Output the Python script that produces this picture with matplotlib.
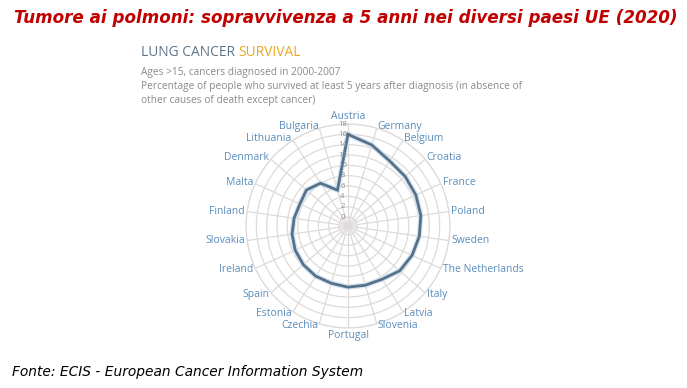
import numpy as np
import matplotlib
matplotlib.use("Agg")
import matplotlib.pyplot as plt

countries = ["Austria", "Germany", "Belgium", "Croatia", "France", "Poland", "Sweden",
             "The Netherlands", "Italy", "Latvia", "Slovenia", "Portugal", "Czechia",
             "Estonia", "Spain", "Ireland", "Slovakia", "Finland", "Malta", "Denmark",
             "Lithuania", "Bulgaria"]
survival = [16.0, 14.6, 13.2, 12.9, 12.7, 12.5, 12.2, 11.9, 11.5, 10.5, 10.2, 10.1,
            9.8, 9.8, 9.7, 9.5, 9.2, 8.8, 8.5, 8.9, 8.1, 5.5]
rticks = [0, 2, 4, 6, 8, 10, 12, 14, 16, 18]

title = "Tumore ai polmoni: sopravvivenza a 5 anni nei diversi paesi UE (2020)"
footer = "Fonte: ECIS - European Cancer Information System"

W, H = 687, 388
fig = plt.figure(figsize=(W / 100, H / 100), dpi=100)
fig.patch.set_facecolor("white")

cx, cy, R = 348, 226, 102
ax = fig.add_axes([(cx - R) / W, (H - cy - R) / H, 2 * R / W, 2 * R / H], projection="polar")
ax.set_facecolor("white")
ax.set_theta_zero_location("N")
ax.set_theta_direction(-1)
rmin = -1.74
ax.set_ylim(rmin, 18)

n = len(countries)
theta = np.arange(n) * 2 * np.pi / n
ax.set_xticks(theta)
ax.set_xticklabels([])
ax.set_yticks(rticks)
ax.set_yticklabels([])
grid_col = "#dedada"
ax.grid(True, color=grid_col, linewidth=0.9)
ax.spines["polar"].set_color(grid_col)
ax.spines["polar"].set_linewidth(0.9)

tt = np.append(theta, theta[0])
vv = np.append(survival, survival[0])
ax.plot(tt, vv, color="#d4e4f1", linewidth=3.8, zorder=3, solid_joinstyle="miter")
ax.plot(tt, vv, color="#57718b", linewidth=2.0, zorder=4, solid_joinstyle="miter")

for v in rticks:
    ax.annotate(str(v), xy=(0, v), xytext=(-4, 0), textcoords="offset points",
                ha="center", va="center", fontsize=5.5, color="#8a8a8a",
                family="Open Sans", zorder=5)

lab_col = "#5a8dbb"
for th, name in zip(theta, countries):
    deg = np.degrees(th)
    if abs(deg) < 1:
        ha, va = "center", "bottom"
    elif abs(deg - 180) < 1:
        ha, va = "center", "top"
    elif deg < 180:
        ha, va = "left", "center"
    else:
        ha, va = "right", "center"
    ax.text(th, 18.4, name, ha=ha, va=va, fontsize=7.5, color=lab_col,
            family="Open Sans", clip_on=False)

fig.text(346 / W, 1 - 18 / H, title, ha="center", va="center", fontsize=12.05,
         fontweight="bold", fontstyle="italic", color="#c00000", family="DejaVu Sans")

t1 = fig.text(141 / W, 1 - 52 / H, "LUNG CANCER ", ha="left", va="center",
              fontsize=9.9, color="#5f7487", family="Open Sans")
fig.canvas.draw()
bb = t1.get_window_extent()
fig.text(bb.x1 / W, 1 - 52 / H, "SURVIVAL", ha="left", va="center",
         fontsize=9.9, color="#e8a824", family="Open Sans")

sub_col = "#8a8a8a"
fig.text(141 / W, 1 - 72 / H, "Ages >15, cancers diagnosed in 2000-2007", ha="left",
         va="center", fontsize=7.3, color=sub_col, family="Open Sans")
fig.text(141 / W, 1 - 86 / H,
         "Percentage of people who survived at least 5 years after diagnosis (in absence of",
         ha="left", va="center", fontsize=7.25, color=sub_col, family="Open Sans")
fig.text(141 / W, 1 - 101 / H, "other causes of death except cancer)", ha="left",
         va="center", fontsize=7.25, color=sub_col, family="Open Sans")

fig.text(12 / W, 1 - 372 / H, footer, ha="left", va="center", fontsize=9.9,
         fontstyle="italic", color="black", family="DejaVu Sans")

fig.savefig("out.png", dpi=100, facecolor="white")
